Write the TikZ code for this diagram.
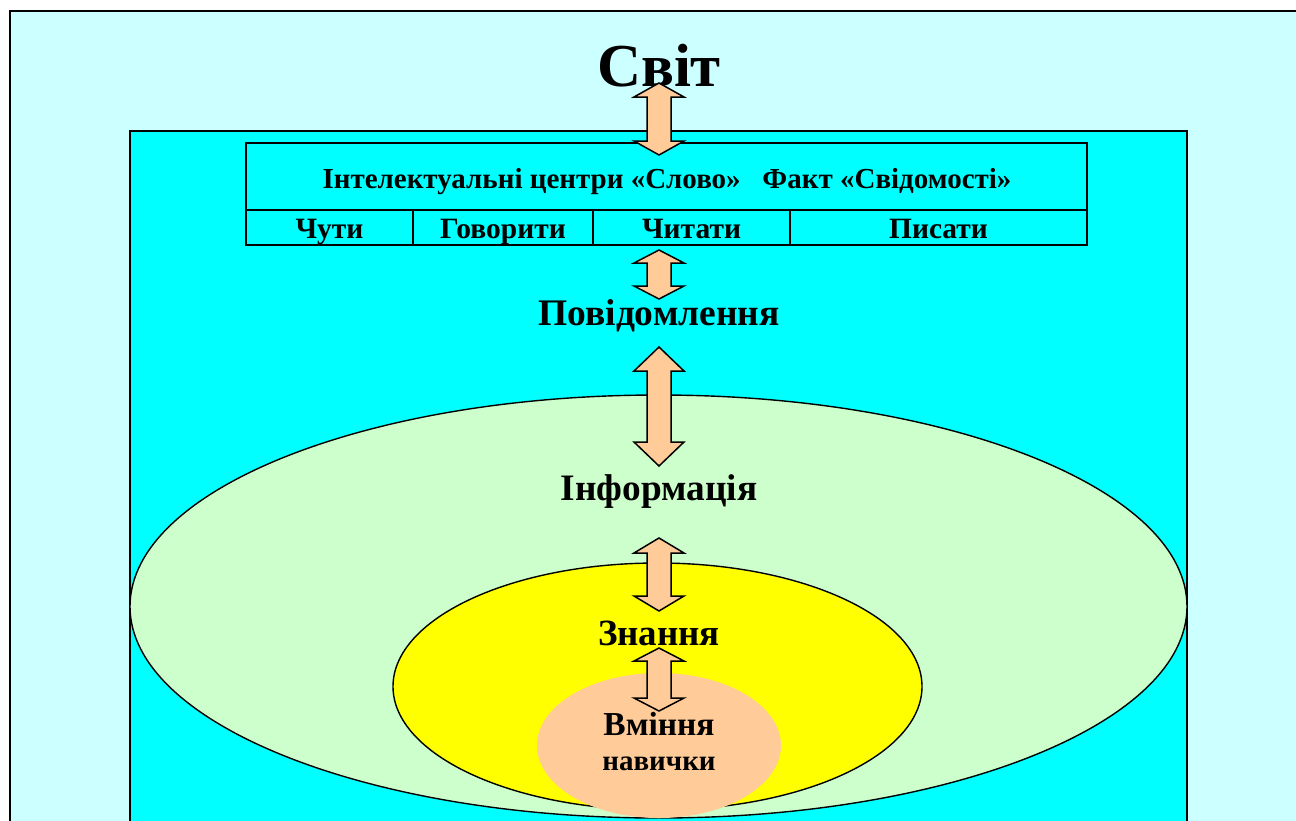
\documentclass[tikz,border=0pt]{standalone}
\usepackage{fontspec}
\setmainfont{Liberation Serif}
\begin{document}
\begin{tikzpicture}[x=1pt,y=-1pt,
  frame/.style={draw=black,line width=2pt},
  ell/.style={draw=black,line width=1.4pt},
  arr/.style={draw=black,line width=1.5pt,fill=peach,line join=miter},
  lbl/.style={font=\bfseries,inner sep=0pt,anchor=base},
  cell/.style={draw=black,line width=1.6pt}]
\definecolor{bgc}{HTML}{CCFFFF}
\definecolor{inner}{HTML}{00FFFF}
\definecolor{lgreen}{HTML}{CCFFCC}
\definecolor{yel}{HTML}{FFFF00}
\definecolor{peach}{HTML}{FFCC99}
\useasboundingbox (0,0) rectangle (1296,820);
\begin{scope}
\clip (0,0) rectangle (1296,820);
\fill[white] (0,0) rectangle (1296,820);
\draw[frame,fill=bgc] (10,11) rectangle (1320,840);
\draw[frame,fill=inner] (130,131) rectangle (1187,840);
\draw[ell,fill=lgreen] (658.5,606.5) ellipse [x radius=528.5,y radius=211.5];
\draw[ell,fill=yel] (657.5,686.5) ellipse [x radius=264.5,y radius=123.5];
\fill[peach] (659,745.5) ellipse [x radius=122,y radius=72.5];
\end{scope}
% table
\draw[cell] (246,143) rectangle (1087,245);
\draw[cell] (246,210) -- (1087,210);
\draw[cell] (413,210) -- (413,245);
\draw[cell] (593,210) -- (593,245);
\draw[cell] (790,210) -- (790,245);
% double arrows
\newcommand{\dblarr}[4]{%
  \draw[arr] (659,#1) -- (684,{#1+#3}) -- (671,{#1+#3}) -- (671,{#2-#4}) -- (684,{#2-#4})
   -- (659,#2) -- (634,{#2-#4}) -- (647,{#2-#4}) -- (647,{#1+#3}) -- (634,{#1+#3}) -- cycle;}
% texts
\node[lbl,font=\bfseries\fontsize{61}{66}\selectfont] (svit) at (659,86) {Світ};
\dblarr{83}{155}{14}{14}
\node[lbl,font=\bfseries\fontsize{29}{32}\selectfont] (hdr) at (667,188) {Інтелектуальні центри «Слово»\hspace{0.5em} Факт «Свідомості»};
\node[lbl,font=\bfseries\fontsize{29.5}{32}\selectfont] (c1) at (329.5,238) {Чути};
\node[lbl,font=\bfseries\fontsize{29.5}{32}\selectfont] (c2) at (503,238) {Говорити};
\node[lbl,font=\bfseries\fontsize{29.5}{32}\selectfont] (c3) at (691.5,238) {Читати};
\node[lbl,font=\bfseries\fontsize{29.5}{32}\selectfont] (c4) at (938.5,238) {Писати};
\dblarr{250}{299}{13}{13}
\node[lbl,font=\bfseries\fontsize{37.5}{40}\selectfont] (pov) at (659,325) {Повідомлення};
\dblarr{347}{466}{24}{24}
\node[lbl,font=\bfseries\fontsize{37.3}{40}\selectfont] (inf) at (659,500) {Інформація};
\dblarr{538}{611}{15}{15}
\node[lbl,font=\bfseries\fontsize{37}{40}\selectfont] (zn) at (659,645) {Знання};
\dblarr{648}{711}{13}{13}
\node[lbl,font=\bfseries\fontsize{33.5}{36}\selectfont] (vm) at (659,735) {Вміння};
\node[lbl,font=\bfseries\fontsize{29}{32}\selectfont] (nav) at (659,770) {навички};
\end{tikzpicture}
\end{document}
